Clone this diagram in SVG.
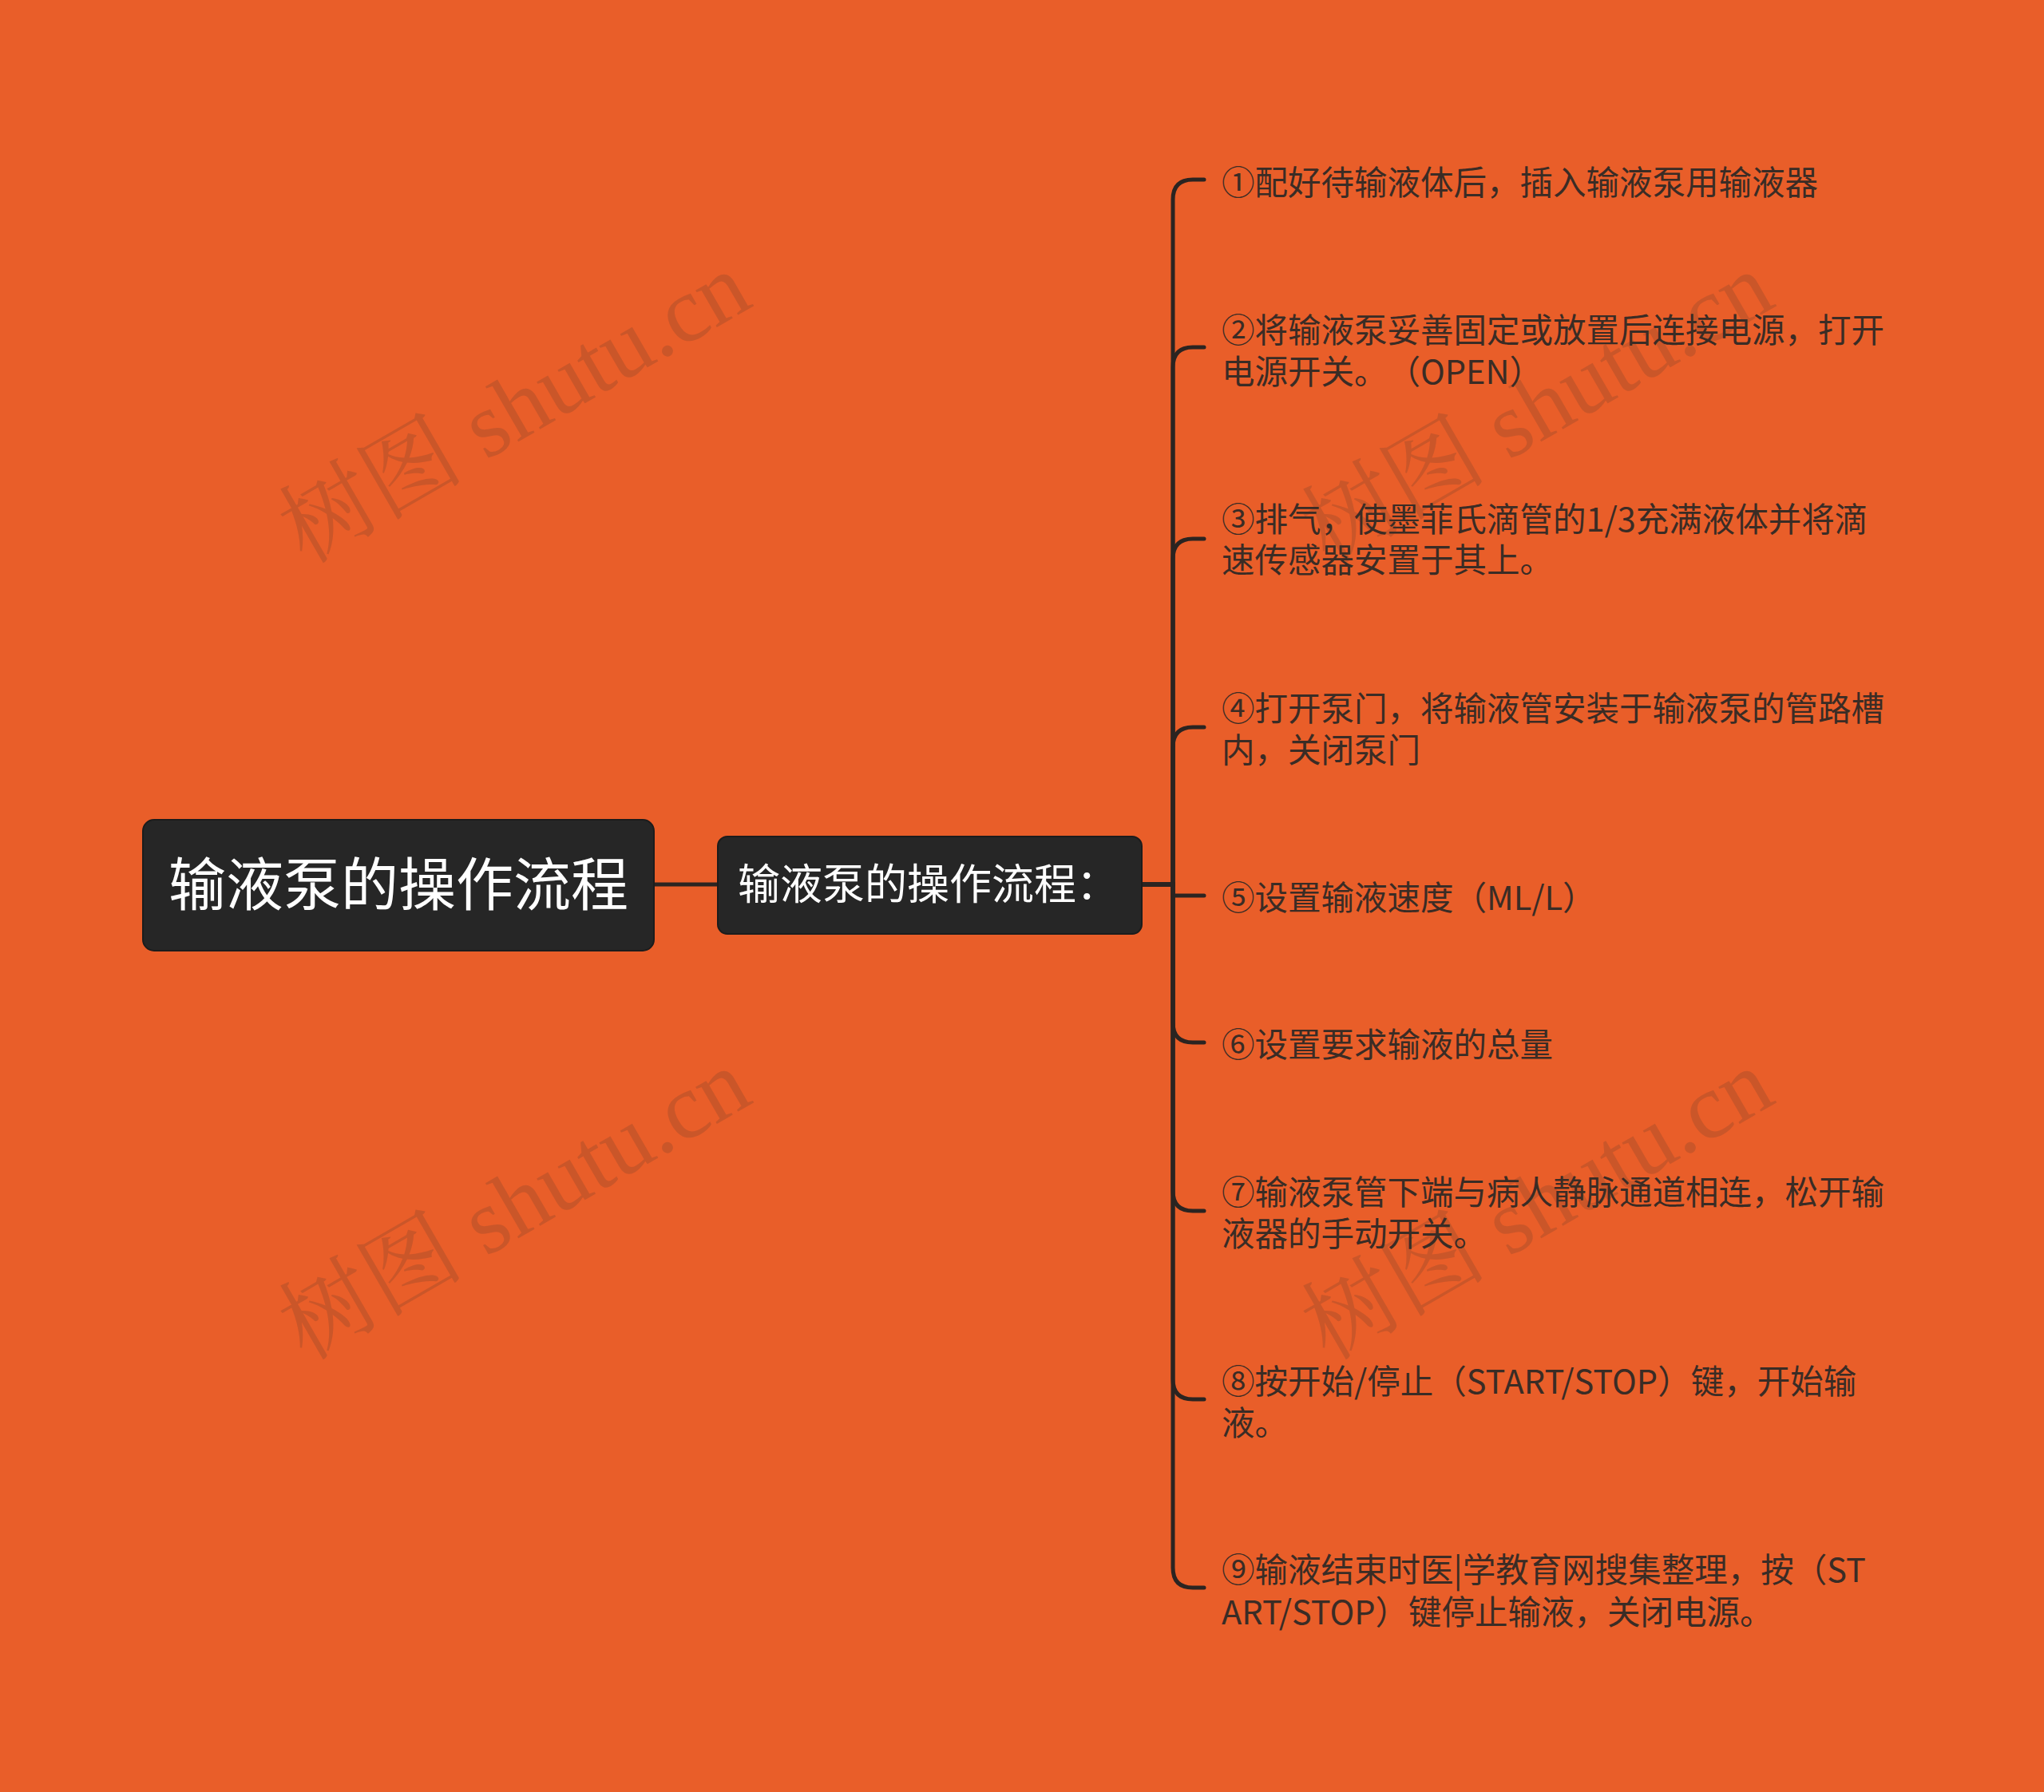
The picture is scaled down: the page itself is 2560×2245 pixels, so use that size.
<svg xmlns="http://www.w3.org/2000/svg" width="2560" height="2245" viewBox="0 0 2560 2245">
<style>
.wm{font-family:"Liberation Serif","Noto Serif CJK SC","Noto Sans CJK SC",serif;font-size:116px;fill:#c5552a;opacity:0.85}
.box{fill:#262626;stroke:#1c1c1c;stroke-width:2}
.t0{font-family:"Noto Sans CJK SC",sans-serif;font-size:72px;fill:#ffffff}
.t1{font-family:"Noto Sans CJK SC",sans-serif;font-size:53px;fill:#ffffff}
.t2{font-family:"Noto Sans CJK SC",sans-serif;font-size:41.5px;fill:#3a2c25;text-spacing-trim:space-all}
.edge{fill:none;stroke:#2b2421;stroke-width:5;stroke-linecap:round}
</style>
<rect x="0" y="0" width="2560" height="2245" fill="#e95e29"/>
<g id="watermarks">
<text class="wm" transform="translate(645,512) rotate(-30)" x="0" y="38" text-anchor="middle">树图 shutu.cn</text>
<text class="wm" transform="translate(1926,512) rotate(-30)" x="0" y="38" text-anchor="middle">树图 shutu.cn</text>
<text class="wm" transform="translate(645,1510) rotate(-30)" x="0" y="38" text-anchor="middle">树图 shutu.cn</text>
<text class="wm" transform="translate(1926,1510) rotate(-30)" x="0" y="38" text-anchor="middle">树图 shutu.cn</text>
</g>
<g id="connectors">
<path class="edge" d="M819 1108 H899"/>
<path class="edge" d="M1430 1108 H1469 V250 Q1469 225 1494 225 H1508"/>
<path class="edge" d="M1430 1108 H1469 V460 Q1469 435 1494 435 H1508"/>
<path class="edge" d="M1430 1108 H1469 V700 Q1469 675 1494 675 H1508"/>
<path class="edge" d="M1430 1108 H1469 V936 Q1469 911 1494 911 H1508"/>
<path class="edge" d="M1430 1108 H1469 V1122 H1508"/>
<path class="edge" d="M1430 1108 H1469 V1281 Q1469 1306 1494 1306 H1508"/>
<path class="edge" d="M1430 1108 H1469 V1492 Q1469 1517 1494 1517 H1508"/>
<path class="edge" d="M1430 1108 H1469 V1728 Q1469 1753 1494 1753 H1508"/>
<path class="edge" d="M1430 1108 H1469 V1964 Q1469 1989 1494 1989 H1508"/>
</g>
<g id="root">
<rect class="box" x="179" y="1027" width="640" height="164" rx="14"/>
<text class="t0" x="499" y="1134" text-anchor="middle">输液泵的操作流程</text>
</g>
<g id="main">
<rect class="box" x="899" y="1048" width="531" height="122" rx="12"/>
<text class="t1" x="924" y="1127">输液泵的操作流程：</text>
</g>
<g id="n1"><text class="t2" x="1530" y="244">①配好待输液体后，插入输液泵用输液器</text></g>
<g id="n2"><text class="t2" x="1530" y="429">②将输液泵妥善固定或放置后连接电源，打开</text><text class="t2" x="1530" y="481">电源开关。（OPEN）</text></g>
<g id="n3"><text class="t2" x="1530" y="666">③排气，使墨菲氏滴管的1/3充满液体并将滴</text><text class="t2" x="1530" y="717">速传感器安置于其上。</text></g>
<g id="n4"><text class="t2" x="1530" y="903">④打开泵门，将输液管安装于输液泵的管路槽</text><text class="t2" x="1530" y="955">内，关闭泵门</text></g>
<g id="n5"><text class="t2" x="1530" y="1140">⑤设置输液速度（ML/L）</text></g>
<g id="n6"><text class="t2" x="1530" y="1324">⑥设置要求输液的总量</text></g>
<g id="n7"><text class="t2" x="1530" y="1509">⑦输液泵管下端与病人静脉通道相连，松开输</text><text class="t2" x="1530" y="1561">液器的手动开关。</text></g>
<g id="n8"><text class="t2" x="1530" y="1746">⑧按开始/停止（START/STOP）键，开始输</text><text class="t2" x="1530" y="1798">液。</text></g>
<g id="n9"><text class="t2" x="1530" y="1982">⑨输液结束时医|学教育网搜集整理，按（ST</text><text class="t2" x="1530" y="2035">ART/STOP）键停止输液，关闭电源。</text></g>
</svg>
